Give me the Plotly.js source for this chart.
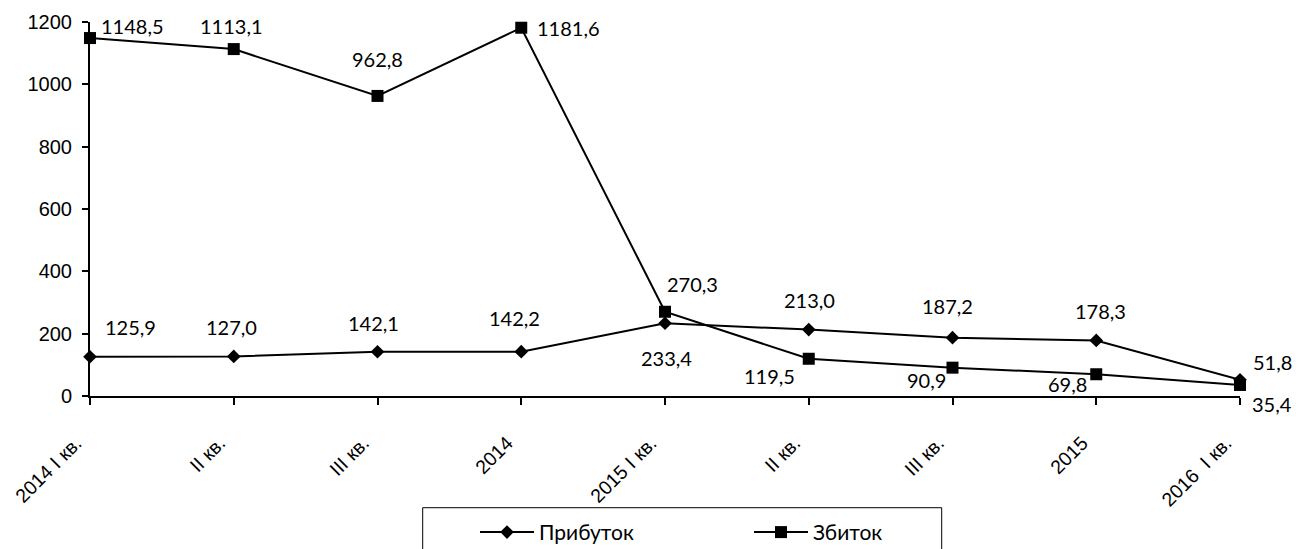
<!DOCTYPE html>
<html>
<head>
<meta charset="utf-8">
<script src="https://cdn.plot.ly/plotly-3.0.1.min.js"></script>
<style>
html,body{margin:0;padding:0;background:#fff;}
#chart{width:1302px;height:549px;}
</style>
</head>
<body>
<div id="chart"></div>
<script>
// ---- data ----
var categories = ["2014 I кв.", "II кв.", "III кв.", "2014", "2015 I кв.", "II кв.", "III кв.", "2015", "2016  I кв."];
var profit = [125.9, 127.0, 142.1, 142.2, 233.4, 213.0, 187.2, 178.3, 51.8];
var loss = [1148.5, 1113.1, 962.8, 1181.6, 270.3, 119.5, 90.9, 69.8, 35.4];
var seriesNames = ["Прибуток", "Збиток"];
var yTicks = [0, 200, 400, 600, 800, 1000, 1200];

// ---- label offsets (px, style only) ----
var profitDx = [40, -2, -4, -7, 1, 1, -5, 4, 32];
var profitDy = [-30, -29, -29, -34, 35, -30, -32, -29, -18];
var lossDx = [42, -2, 0, 47, 27, -39, -26, -29, 32];
var lossDy = [-12, -23, -37, 0, -28, 17, 12, 10, 19];

var idx = categories.map(function (c, i) { return i; });
function fmt(v) { return v.toFixed(1).replace('.', ','); }

var labelFont = {family: "Lato, Open Sans, sans-serif", size: 20, color: '#000'};
var axisFontX = {family: "Liberation Sans, Arial, sans-serif", size: 19.5, color: '#000'};
var axisFontY = {family: "Liberation Sans, Arial, sans-serif", size: 20, color: '#000'};

var traces = [
  {
    x: idx, y: profit, name: seriesNames[0], type: 'scatter', mode: 'lines+markers',
    line: {color: '#000', width: 2},
    marker: {symbol: 'diamond', size: 10.5, color: '#000', line: {width: 0}},
    hoverinfo: 'skip', cliponaxis: false
  },
  {
    x: idx, y: loss, name: seriesNames[1], type: 'scatter', mode: 'lines+markers',
    line: {color: '#000', width: 2},
    marker: {symbol: 'square', size: 12, color: '#000', line: {width: 0}},
    hoverinfo: 'skip', cliponaxis: false
  }
];

var annotations = [];
idx.forEach(function (i) {
  annotations.push({x: i, y: profit[i], xref: 'x', yref: 'y', text: fmt(profit[i]),
    showarrow: false, xshift: profitDx[i], yshift: -profitDy[i], font: labelFont});
  annotations.push({x: i, y: loss[i], xref: 'x', yref: 'y', text: fmt(loss[i]),
    showarrow: false, xshift: lossDx[i], yshift: -lossDy[i], font: labelFont});
});

var layout = {
  width: 1302, height: 549,
  margin: {l: 90, r: 62, t: 22, b: 153, pad: 0, autoexpand: false},
  paper_bgcolor: '#fff', plot_bgcolor: '#fff',
  showlegend: true,
  legend: {
    orientation: 'h', x: 0.3348, xanchor: 'left', y: -0.31, yanchor: 'top',
    bgcolor: 'rgba(0,0,0,0)', borderwidth: 0,
    itemwidth: 54, entrywidth: 205, entrywidthmode: 'pixels',
    font: {family: "Lato, Open Sans, sans-serif", size: 21, color: '#000'}
  },
  xaxis: {
    range: [0, 8], tickmode: 'array', tickvals: idx, ticktext: categories,
    tickangle: -45, ticks: 'outside', ticklen: 7, tickwidth: 2, tickcolor: '#000',
    showline: true, linecolor: '#000', linewidth: 2, showgrid: false, zeroline: false,
    tickfont: axisFontX, ticklabelstandoff: 19, ticklabelshift: -14,
    automargin: false, fixedrange: true
  },
  yaxis: {
    range: [0, 1200], tickmode: 'array', tickvals: yTicks,
    ticks: 'outside', ticklen: 6, tickwidth: 2, tickcolor: '#000',
    showline: true, linecolor: '#000', linewidth: 2, showgrid: false, zeroline: false,
    tickfont: axisFontY, ticklabelstandoff: 6, automargin: false, fixedrange: true
  },
  shapes: [{
    type: 'rect', xref: 'paper', yref: 'paper',
    x0: 0.2893, x1: 0.7406, y0: -0.2987, y1: -0.5,
    line: {color: '#000', width: 1}, fillcolor: 'rgba(0,0,0,0)'
  }],
  annotations: annotations
};

Plotly.newPlot('chart', traces, layout, {displayModeBar: false, staticPlot: true});
</script>
</body>
</html>
